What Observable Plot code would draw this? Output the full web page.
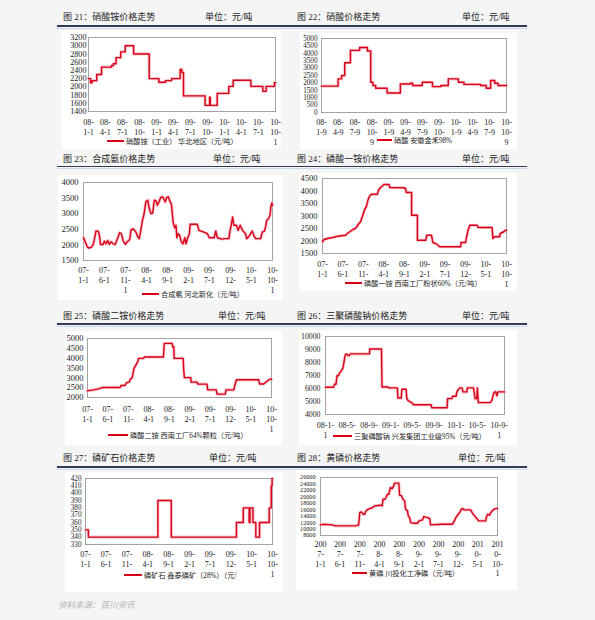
<!DOCTYPE html>
<html><head><meta charset="utf-8">
<script src="https://cdn.jsdelivr.net/npm/d3@7"></script>
<script src="https://cdn.jsdelivr.net/npm/@observablehq/plot@0.6"></script>
<style>
html,body{margin:0;padding:0;background:#f5f5f5;}
#page{position:relative;width:595px;height:620px;overflow:hidden;background:#f5f5f5;font-family:"Liberation Serif","Noto Sans CJK SC",serif;color:#1a1a1a;}
.box{position:absolute;background:#fff;overflow:hidden;}
.box svg{display:block;}
.ttl{position:absolute;font-size:9px;line-height:9px;white-space:nowrap;color:#1a1a1a;}
.rule{position:absolute;height:1.5px;background:#2f3b55;}
.rule2{position:absolute;height:1px;background:#c9d9ec;}
.legend{position:absolute;background:#fff;font-size:7.2px;height:10px;white-space:nowrap;display:flex;align-items:center;padding:0 3px 0 2px;color:#222;}
.legend .sw{display:inline-block;height:2px;background:#d9001b;margin-right:2px;}
.footer{position:absolute;left:58px;top:598px;font-size:8.5px;font-style:italic;color:#b3b3b3;white-space:nowrap;}
</style></head>
<body><div id="page"></div>
<script>
// ---------- data ----------
const dates21 = ["2008-01-01","2008-01-12","2008-01-20","2008-02-14","2008-03-11","2008-05-04","2008-05-13","2008-05-28","2008-06-22","2008-07-16","2008-08-30","2008-11-22","2009-01-13","2009-02-17","2009-03-22","2009-05-07","2009-05-16","2009-05-25","2009-09-18","2009-10-12","2009-10-16","2009-11-22","2010-01-23","2010-02-16","2010-05-22","2010-07-25","2010-08-12","2010-09-25","2010-10-01"];
const values21 = [2200,2100,2150,2300,2480,2520,2560,2710,2850,3000,2800,2200,2110,2150,2200,2420,2350,1780,1550,1750,1550,1840,2010,2160,2010,1890,2010,2100,2100];
const ticks21 = ["2008-01-01","2008-04-01","2008-07-01","2008-10-01","2009-01-01","2009-04-01","2009-07-01","2009-10-01","2010-01-01","2010-04-01","2010-07-01","2010-10-01"];
const labels21 = ["08-\n1-1","08-\n4-1","08-\n7-1","08-\n10-","09-\n1-1","09-\n4-1","09-\n7-1","09-\n10-","10-\n1-1","10-\n4-1","10-\n7-1","10-\n10-\n1"];
const yTicks21 = [1400,1600,1800,2000,2200,2400,2600,2800,3000,3200];

const dates22 = ["2008-01-09","2008-04-08","2008-04-27","2008-05-14","2008-06-14","2008-08-03","2008-09-14","2008-10-02","2008-10-14","2008-10-29","2008-12-30","2009-03-12","2009-05-06","2009-05-18","2009-07-09","2009-09-02","2009-10-18","2009-11-27","2010-01-21","2010-02-20","2010-05-21","2010-06-21","2010-07-15","2010-08-06","2010-08-24","2010-10-09"];
const values22 = [1780,2270,2500,3360,4200,4390,4160,2045,1820,1640,1320,1930,1980,1820,2045,1750,1820,2270,2045,1900,1820,1640,2160,1980,1820,1820];
const ticks22 = ["2008-01-09","2008-04-09","2008-07-09","2008-10-09","2009-01-09","2009-04-09","2009-07-09","2009-10-09","2010-01-09","2010-04-09","2010-07-09","2010-10-09"];
const labels22 = ["08-\n1-9","08-\n4-9","08-\n7-9","08-\n10-\n9","09-\n1-9","09-\n4-9","09-\n7-9","09-\n10-","10-\n1-9","10-\n4-9","10-\n7-9","10-\n10-\n9"];
const yTicks22 = [0,500,1000,1500,2000,2500,3000,3500,4000,4500,5000];

const dates23 = ["2007-01-01","2007-01-29","2007-02-11","2007-02-28","2007-03-13","2007-03-22","2007-04-01","2007-04-19","2007-04-28","2007-05-04","2007-05-22","2007-06-01","2007-06-13","2007-06-25","2007-07-07","2007-07-19","2007-08-04","2007-08-19","2007-09-04","2007-09-19","2007-10-02","2007-10-16","2007-11-01","2007-11-13","2007-12-01","2007-12-12","2007-12-28","2008-01-16","2008-01-28","2008-02-09","2008-02-20","2008-03-03","2008-03-13","2008-03-28","2008-04-10","2008-04-22","2008-05-04","2008-05-16","2008-05-28","2008-06-10","2008-06-19","2008-07-01","2008-07-13","2008-07-28","2008-08-07","2008-08-16","2008-08-25","2008-09-07","2008-09-17","2008-09-29","2008-10-11","2008-10-22","2008-11-01","2008-11-07","2008-11-16","2008-11-28","2008-12-10","2008-12-22","2009-01-04","2009-01-13","2009-01-25","2009-02-06","2009-02-12","2009-04-04","2009-04-16","2009-05-22","2009-06-16","2009-07-01","2009-08-04","2009-08-16","2009-08-28","2009-10-01","2009-10-20","2009-11-19","2009-11-28","2009-12-07","2009-12-16","2009-12-25","2010-01-13","2010-01-25","2010-02-09","2010-02-26","2010-03-19","2010-03-28","2010-04-13","2010-05-07","2010-05-19","2010-06-01","2010-07-07","2010-07-19","2010-08-04","2010-08-13","2010-08-20","2010-09-02","2010-09-13","2010-09-19","2010-09-26","2010-10-01"];
const values23 = [2230,1930,1900,1930,2015,2200,2445,2435,2250,2015,2015,2120,2035,2145,2015,2100,2035,2015,2200,2390,2360,2120,2015,2100,2165,2490,2510,2410,2270,2200,2465,2790,2950,3380,3430,3160,3000,3020,3430,3410,3270,3380,3520,3540,3450,3380,3520,3540,3410,3300,2730,2550,2630,2230,2360,2300,2090,2035,2230,2035,2230,2360,2660,2660,2465,2410,2360,2230,2230,2445,2230,2185,2200,2200,2465,2660,2895,2630,2630,2465,2630,2465,2360,2200,2270,2445,2300,2200,2200,2410,2445,2595,2790,2840,2950,3215,3345,3270];
const ticks5m = ["2007-01-01","2007-06-01","2007-11-01","2008-04-01","2008-09-01","2009-02-01","2009-07-01","2009-12-01","2010-05-01","2010-10-01"];
const labels23 = ["07-\n1-1","07-\n6-1","07-\n11-\n1","08-\n4-1","08-\n9-1","09-\n2-1","09-\n7-1","09-\n12-","10-\n5-1","10-\n10-\n1"];
const labels5m = ["07-\n1-1","07-\n6-1","07-\n11-","08-\n4-1","08-\n9-1","09-\n2-1","09-\n7-1","09-\n12-","10-\n5-1","10-\n10-\n1"];
const yTicks23 = [1500,2000,2500,3000,3500,4000];

const dates24 = ["2007-01-01","2007-01-13","2007-02-07","2007-03-19","2007-04-08","2007-04-22","2007-06-22","2007-07-04","2007-07-23","2007-08-16","2007-09-01","2007-09-16","2007-09-29","2007-10-11","2007-10-19","2007-10-28","2007-11-10","2007-11-23","2007-12-05","2007-12-17","2008-01-01","2008-02-13","2008-02-22","2008-03-08","2008-03-25","2008-04-02","2008-05-10","2008-05-16","2008-08-28","2008-09-10","2008-09-16","2008-10-25","2008-10-25","2008-12-07","2008-12-07","2009-02-07","2009-02-15","2009-03-22","2009-04-01","2009-04-22","2009-05-10","2009-05-22","2009-10-25","2009-10-28","2009-12-01","2009-12-07","2009-12-19","2010-01-01","2010-02-25","2010-03-04","2010-06-16","2010-06-22","2010-07-04","2010-08-10","2010-08-16","2010-09-11","2010-09-23","2010-10-01"];
const values24 = [1970,2060,2100,2140,2170,2190,2230,2300,2370,2460,2500,2590,2700,2770,2900,3030,3260,3370,3630,3790,3870,3870,4030,4140,4220,4260,4260,4140,4130,4100,3940,3940,3030,3030,2030,2030,2230,2230,1940,1900,1830,1770,1770,1940,1940,2140,2430,2630,2630,2540,2540,2100,2170,2170,2300,2370,2430,2430];
const yTicks24 = [1500,2000,2500,3000,3500,4000,4500];

const dates25 = ["2007-01-01","2007-02-15","2007-03-22","2007-04-11","2007-04-22","2007-09-01","2007-09-07","2007-10-07","2007-10-16","2007-11-10","2007-11-16","2007-11-28","2007-12-04","2007-12-13","2007-12-27","2008-01-10","2008-01-16","2008-02-22","2008-02-28","2008-07-19","2008-07-25","2008-09-22","2008-09-25","2008-10-04","2008-10-07","2008-12-13","2008-12-16","2008-12-22","2009-02-07","2009-02-10","2009-03-25","2009-04-01","2009-06-08","2009-06-13","2009-08-16","2009-08-22","2009-10-22","2009-10-28","2009-12-25","2010-01-01","2010-01-13","2010-06-28","2010-07-04","2010-08-04","2010-08-30","2010-09-19","2010-10-01"];
const values25 = [2340,2390,2440,2475,2510,2510,2610,2610,2730,2810,2945,2980,3150,3485,3650,3820,3990,3990,4060,4060,4750,4750,4580,4580,3990,3990,3485,3010,3010,2780,2780,2680,2680,2390,2390,2170,2170,2390,2390,2610,2900,2900,2690,2690,2840,2930,2930];
const yTicks25 = [2000,2500,3000,3500,4000,4500,5000];

const dates26 = ["2008-01-01","2008-02-15","2008-02-21","2008-02-29","2008-03-05","2008-03-14","2008-03-19","2008-03-28","2008-04-07","2008-04-11","2008-04-17","2008-04-22","2008-05-01","2008-05-07","2008-05-13","2008-05-19","2008-09-04","2008-09-05","2008-11-10","2008-11-13","2008-12-16","2008-12-20","2009-02-07","2009-02-10","2009-03-01","2009-03-04","2009-03-28","2009-04-01","2009-04-10","2009-04-29","2009-05-08","2009-08-16","2009-08-19","2009-11-13","2009-11-16","2009-12-10","2009-12-13","2010-01-02","2010-01-07","2010-01-16","2010-01-26","2010-02-05","2010-02-10","2010-03-04","2010-03-07","2010-04-10","2010-04-16","2010-04-19","2010-04-28","2010-05-02","2010-05-07","2010-07-13","2010-07-22","2010-08-01","2010-08-07","2010-08-13","2010-08-19","2010-08-25","2010-10-01"];
const values26 = [6100,6100,6330,6330,6980,6980,7160,7340,7550,7800,8320,8630,8630,8530,8530,8660,8660,9040,9040,6120,6120,6050,6050,5270,5270,5940,5940,5220,5040,4910,4750,4750,4520,4520,5220,5220,5400,5400,5740,5940,6050,6050,5740,5740,6050,6050,5480,5220,5220,6050,4910,4910,5090,5610,5740,5740,5430,5740,5740];
const ticks26 = ["2008-01-01","2008-05-01","2008-09-01","2009-01-01","2009-05-01","2009-09-01","2010-01-01","2010-05-01","2010-09-01"];
const labels26 = ["08-1-\n1","08-5-","08-9-","09-1-","09-5-","09-9-","10-1-","10-5-","10-9-\n1"];
const yTicks26 = [4000,5000,6000,7000,8000,9000,10000];

const dates27 = ["2007-01-01","2007-01-22","2008-06-14","2008-09-20","2010-01-10","2010-03-01","2010-04-13","2010-04-19","2010-05-11","2010-06-01","2010-06-28","2010-09-07","2010-09-22","2010-09-28","2010-10-01"];
const values27 = [350,340,390,340,360,380,360,380,360,340,360,380,410,420,420];
const yTicks27 = [330,340,350,360,370,380,390,400,410,420];

const dates28 = ["2007-01-01","2007-01-26","2007-04-01","2007-04-25","2007-09-28","2007-10-23","2007-11-01","2007-11-14","2007-11-28","2007-12-10","2007-12-14","2007-12-28","2008-01-16","2008-02-09","2008-02-24","2008-04-10","2008-04-22","2008-04-29","2008-05-13","2008-05-22","2008-06-02","2008-06-13","2008-06-25","2008-07-08","2008-07-19","2008-07-26","2008-08-29","2008-09-04","2008-09-19","2008-09-29","2008-10-13","2008-10-20","2008-11-04","2008-11-10","2008-11-20","2008-11-28","2008-12-25","2009-01-19","2009-02-01","2009-02-28","2009-03-10","2009-04-07","2009-04-25","2009-05-01","2009-08-01","2009-10-16","2009-10-29","2009-11-13","2009-12-01","2009-12-13","2009-12-25","2010-01-04","2010-01-16","2010-03-07","2010-03-19","2010-04-07","2010-04-28","2010-05-10","2010-07-01","2010-07-10","2010-07-19","2010-08-01","2010-08-10","2010-08-22","2010-09-04","2010-09-19","2010-10-01"];
const values28 = [11290,11500,11290,10980,10980,11290,15120,15330,14600,14600,15330,15950,16360,16680,17190,17400,17190,19270,19270,19780,20820,20820,22890,22580,23200,24240,24240,20510,20300,19270,18750,16160,15640,14090,13570,12010,11810,11810,12530,12840,13880,13570,13250,11290,11500,11500,12220,13570,14600,15120,16160,16360,15950,15950,15120,14090,13050,12530,12530,14090,14600,14290,15120,15640,16160,16360,16360];
const labels28 = ["200\n7-\n1-1","200\n7-\n6-1","200\n7-\n11-","200\n8-\n4-1","200\n8-\n9-1","200\n9-\n2-1","200\n9-\n7-1","200\n9-\n12-","201\n0-\n5-1","201\n0-\n10-\n1"];
const yTicks28 = [8000,10000,12000,14000,16000,18000,20000,22000,24000,26000];

const titles = ["图 21：硝酸铵价格走势","图 22：硝酸价格走势","图 23：合成氨价格走势","图 24：磷酸一铵价格走势","图 25：磷酸二铵价格走势","图 26：三聚磷酸钠价格走势","图 27：磷矿石价格走势","图 28：黄磷价格走势"];
const unitText = "单位：元/吨";
const legends = ["硝酸铵（工业） 华北地区（元/吨）","硝酸 安徽金禾98%","合成氨 河北新化（元/吨）","磷酸一铵 西南工厂粉状60%（元/吨）","磷酸二铵 西南工厂64%颗粒（元/吨）","三聚磷酸钠 兴发集团工业级95%（元/吨）","磷矿石 鑫泰磷矿（28%）（元/","黄磷 川投化工净磷（元/吨）"];
const source = "资料来源：百川资讯";

// ---------- layout ----------
const page = document.getElementById("page");
function el(cls, css, text) {
  const d = document.createElement("div");
  d.className = cls;
  Object.assign(d.style, css);
  if (text != null) d.textContent = text;
  page.appendChild(d);
  return d;
}
const headRows = [[17.7, 25], [159.7, 165.5], [316.3, 323], [458.3, 466]];
headRows.forEach(([, ry]) => {
  el("rule", {left: "57px", top: ry + "px", width: "470px"});
  el("rule2", {left: "57px", top: (ry + 2.5) + "px", width: "470px"});
});
const titleX = [[63, 205], [297, 462], [63, 213], [297, 462], [63, 218], [297, 462], [63, 209], [297, 458]];

const panels = [
  {dates: dates21, values: values21, ticks: ticks21, labels: labels21, yTicks: yTicks21, yDomain: [1400, 3200], xDomain: ["2008-01-01", "2010-10-01"], curve: "step-after",
   box: [62, 31, 281, 149], frame: [88, 37, 275, 111], yFont: 8.2, yPad: 2, xPad: 7, leg: [107, 141, 17]},
  {dates: dates22, values: values22, ticks: ticks22, labels: labels22, yTicks: yTicks22, yDomain: [0, 5000], xDomain: ["2008-01-09", "2010-10-09"], curve: "step-after",
   box: [300, 33, 517, 149], frame: [321, 38, 506, 112], yFont: 7.2, yPad: 4, xPad: 6, leg: [377, 140, 15]},
  {dates: dates23, values: values23, ticks: ticks5m, labels: labels23, yTicks: yTicks23, yDomain: [1500, 4000], xDomain: ["2007-01-01", "2010-10-01"], curve: "linear",
   box: [58, 175, 282, 300], frame: [83, 182, 272, 260], yFont: 8.5, yPad: 5, xPad: 6, leg: [142, 294.3, 17]},
  {dates: dates24, values: values24, ticks: ticks5m, labels: labels5m, yTicks: yTicks24, yDomain: [1500, 4500], xDomain: ["2007-01-01", "2010-10-01"], curve: "linear",
   box: [299, 173, 517, 291], frame: [322, 178, 506, 253], yFont: 8.5, yPad: 5, xPad: 7, leg: [345, 282.7, 17]},
  {dates: dates25, values: values25, ticks: ticks5m, labels: labels5m, yTicks: yTicks25, yDomain: [2000, 5000], xDomain: ["2007-01-01", "2010-10-01"], curve: "linear",
   box: [65, 331, 282, 445], frame: [87, 338, 271, 397], yFont: 8.5, yPad: 4, xPad: 8, leg: [108, 434.7, 20]},
  {dates: dates26, values: values26, ticks: ticks26, labels: labels26, yTicks: yTicks26, yDomain: [4000, 10000], xDomain: ["2008-01-01", "2010-10-01"], curve: "linear",
   box: [299, 330, 517, 445], frame: [325, 336, 504, 414], yFont: 7.8, yPad: 5, xPad: 7, leg: [333, 435.7, 19]},
  {dates: dates27, values: values27, ticks: ticks5m, labels: labels5m, yTicks: yTicks27, yDomain: [330, 420], xDomain: ["2007-01-01", "2010-10-01"], curve: "step-after",
   box: [65, 472, 282, 592], frame: [85, 478, 272, 544], yFont: 7.2, yPad: 4, xPad: 6, leg: [124, 575, 18]},
  {dates: dates28, values: values28, ticks: ticks5m, labels: labels28, yTicks: yTicks28, yDomain: [8000, 26000], xDomain: ["2007-01-01", "2010-10-01"], curve: "linear",
   box: [296, 470, 517, 590], frame: [320, 477, 497, 535], yFont: 6.2, yPad: 5, xPad: 5, leg: [352, 572.7, 15]}
];

panels.forEach((p, i) => {
  const [tx, ux] = titleX[i];
  const ty = headRows[Math.floor(i / 2)][0];
  el("ttl", {left: tx + "px", top: (ty - 4.5) + "px"}, titles[i]);
  el("ttl", {left: ux + "px", top: (ty - 4.5) + "px"}, unitText);

  const [bx0, by0, bx1, by1] = p.box;
  const [fx0, fy0, fx1, fy1] = p.frame;
  const box = el("box", {left: bx0 + "px", top: by0 + "px", width: (bx1 - bx0) + "px", height: (by1 - by0) + "px"});
  const xs = p.dates.map(s => new Date(s));
  const tickMap = new Map(p.ticks.map((s, k) => [+new Date(s), p.labels[k]]));
  const chart = Plot.plot({
    width: bx1 - bx0, height: by1 - by0,
    marginLeft: fx0 - bx0, marginRight: bx1 - fx1, marginTop: fy0 - by0, marginBottom: by1 - fy1,
    style: {background: "transparent", fontFamily: "'Liberation Serif', serif", color: "#222", overflow: "hidden"},
    x: {type: "utc", domain: p.xDomain.map(s => new Date(s))},
    y: {domain: p.yDomain},
    marks: [
      Plot.frame({stroke: "#a3a3a3", strokeWidth: 1}),
      Plot.axisY({ticks: p.yTicks, tickSize: 0, tickPadding: p.yPad, fontSize: p.yFont, label: null, tickFormat: d => String(d)}),
      Plot.axisX({ticks: p.ticks.map(s => new Date(s)), tickSize: 0, tickPadding: p.xPad, fontSize: 8, lineHeight: 1.2, label: null, tickFormat: d => tickMap.get(+d)}),
      Plot.line(p.values, {x: xs, y: p.values, curve: p.curve, stroke: "#f4a2aa", strokeWidth: 3.2, strokeOpacity: 0.6}),
      Plot.line(p.values, {x: xs, y: p.values, curve: p.curve, stroke: "#d9001b", strokeWidth: 1.4})
    ]
  });
  box.appendChild(chart);

  const [lx, ly, lw] = p.leg;
  const lg = el("legend", {left: (lx - 2) + "px", top: (ly - 5) + "px"});
  const sw = document.createElement("span");
  sw.className = "sw";
  sw.style.width = lw + "px";
  lg.appendChild(sw);
  const t = document.createElement("span");
  t.textContent = legends[i];
  lg.appendChild(t);
});

el("footer", {}, source);
</script>
</body></html>
